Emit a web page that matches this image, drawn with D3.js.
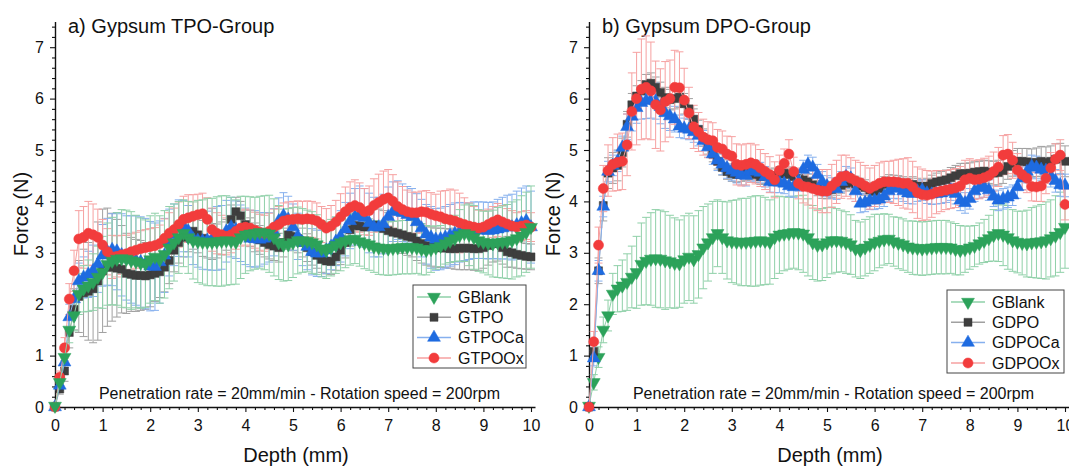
<!DOCTYPE html>
<html><head><meta charset="utf-8">
<script src="https://cdn.jsdelivr.net/npm/d3@7/dist/d3.min.js"></script>
<style>
html,body{margin:0;padding:0;background:#fff;}
svg{display:block;}
text{font-family:"Liberation Sans",Arial,Helvetica,sans-serif;fill:#111;}
</style></head><body>
<svg id="chart" width="1069" height="466"></svg>
<script>
// ---- sampling grid (depth, mm) ----
const depth = d3.range(0, 101).map(i => i / 10);
const xTickValues = [0,1,2,3,4,5,6,7,8,9,10];
const yTickValues = [0,1,2,3,4,5,6,7];

// ---- GBlank (shared control) ----
const gBlank = [0.02,
 0.48,0.97,1.5,1.78,2.2,2.3,2.36,2.43,2.53,
 2.62,2.78,2.84,2.88,2.89,2.88,2.85,2.83,2.8,2.79,
 2.87,2.92,2.87,2.97,3.1,3.2,3.3,3.38,3.3,3.24,
 3.22,3.21,3.21,3.21,3.22,3.23,3.24,3.23,3.21,3.3,
 3.35,3.37,3.38,3.4,3.39,3.37,3.3,3.2,3.15,3.16,
 3.2,3.24,3.24,3.23,3.2,3.16,3.08,3.05,3.1,3.15,
 3.2,3.23,3.26,3.27,3.22,3.19,3.16,3.12,3.1,3.09,
 3.08,3.09,3.1,3.11,3.11,3.11,3.1,3.07,3.05,3.07,
 3.1,3.13,3.18,3.23,3.28,3.34,3.38,3.35,3.3,3.24,
 3.21,3.19,3.18,3.2,3.21,3.22,3.24,3.28,3.33,3.4,
 3.5];
const errBlank = [0,
 0.15,0.2,0.25,0.3,0.4,0.45,0.5,0.55,0.6,
 0.7,0.8,0.85,0.9,0.95,0.95,0.95,0.9,0.88,0.85,
 0.85,0.85,0.85,0.85,0.8,0.75,0.7,0.65,0.7,0.75,
 0.8,0.82,0.85,0.85,0.87,0.88,0.87,0.85,0.82,0.8,
 0.75,0.72,0.7,0.7,0.72,0.75,0.75,0.72,0.7,0.7,
 0.68,0.65,0.62,0.6,0.6,0.58,0.55,0.55,0.55,0.55,
 0.55,0.52,0.5,0.48,0.48,0.5,0.5,0.5,0.52,0.52,
 0.52,0.52,0.52,0.52,0.52,0.52,0.5,0.5,0.48,0.45,
 0.42,0.4,0.4,0.42,0.45,0.5,0.55,0.6,0.62,0.6,
 0.6,0.62,0.65,0.68,0.7,0.72,0.75,0.75,0.78,0.78,
 0.8];

// ---- TPO group ----
const gTPO = [0,
 0.35,0.7,1.45,1.9,2.15,2.22,2.25,2.3,2.45,
 2.65,2.72,2.72,2.7,2.68,2.6,2.58,2.56,2.56,2.55,
 2.57,2.6,2.63,2.72,2.85,3.05,3.2,3.3,3.38,3.42,
 3.35,3.28,3.25,3.22,3.23,3.28,3.35,3.65,3.8,3.72,
 3.55,3.4,3.3,3.25,3.2,3.16,3.13,3.1,3.2,3.35,
 3.32,3.28,3.2,3.1,3.02,2.95,2.87,2.84,2.83,2.92,
 3.05,3.2,3.45,3.53,3.52,3.5,3.52,3.54,3.5,3.47,
 3.43,3.4,3.38,3.35,3.32,3.3,3.23,3.18,3.14,3.12,
 3.1,3.1,3.09,3.08,3.08,3.09,3.09,3.09,3.08,3.08,
 3.1,3.14,3.18,3.18,3.1,3.02,3.0,2.97,2.95,2.93,
 2.92];
const errTPO = [0,
 0.1,0.2,0.3,0.4,0.7,0.85,0.95,1.05,1.15,
 1.2,1.15,1.05,0.95,0.85,0.78,0.72,0.7,0.68,0.65,
 0.62,0.55,0.5,0.48,0.45,0.42,0.4,0.38,0.36,0.35,
 0.35,0.35,0.35,0.35,0.33,0.32,0.3,0.28,0.28,0.28,
 0.28,0.28,0.28,0.28,0.28,0.28,0.28,0.28,0.28,0.28,
 0.28,0.28,0.28,0.27,0.26,0.25,0.25,0.25,0.25,0.26,
 0.28,0.3,0.32,0.33,0.34,0.35,0.35,0.35,0.35,0.35,
 0.35,0.35,0.35,0.36,0.37,0.38,0.38,0.38,0.38,0.38,
 0.38,0.38,0.38,0.38,0.4,0.42,0.42,0.42,0.42,0.42,
 0.4,0.38,0.36,0.34,0.32,0.3,0.28,0.27,0.26,0.25,
 0.25];
const gTPOCa = [0,
 0.42,0.87,1.75,2.1,2.45,2.52,2.58,2.65,2.78,
 2.95,3.02,3.06,3.03,2.96,2.9,2.87,2.85,2.82,2.79,
 2.74,2.73,2.82,2.95,3.2,3.35,3.48,3.52,3.42,3.27,
 3.24,3.23,3.24,3.26,3.28,3.3,3.42,3.5,3.45,3.38,
 3.32,3.28,3.27,3.26,3.28,3.3,3.4,3.62,3.72,3.65,
 3.5,3.32,3.2,3.12,3.02,2.99,2.99,3.05,3.12,3.22,
 3.32,3.46,3.62,3.7,3.74,3.68,3.58,3.5,3.5,3.56,
 3.7,3.8,3.83,3.78,3.74,3.7,3.6,3.48,3.36,3.3,
 3.26,3.27,3.3,3.34,3.37,3.4,3.41,3.42,3.44,3.44,
 3.44,3.43,3.44,3.46,3.48,3.5,3.5,3.54,3.58,3.62,
 3.5];
const errTPOCa = [0,
 0.1,0.15,0.25,0.3,0.35,0.4,0.45,0.5,0.55,
 0.6,0.65,0.7,0.75,0.8,0.82,0.85,0.87,0.88,0.88,
 0.87,0.85,0.8,0.72,0.65,0.6,0.55,0.5,0.5,0.5,
 0.52,0.55,0.57,0.6,0.62,0.62,0.6,0.58,0.56,0.55,
 0.55,0.55,0.55,0.52,0.5,0.48,0.46,0.45,0.45,0.45,
 0.45,0.45,0.45,0.45,0.45,0.45,0.45,0.45,0.45,0.47,
 0.5,0.52,0.54,0.55,0.56,0.57,0.58,0.58,0.58,0.58,
 0.58,0.58,0.57,0.56,0.55,0.55,0.55,0.56,0.58,0.6,
 0.6,0.6,0.6,0.6,0.6,0.58,0.56,0.55,0.55,0.55,
 0.55,0.55,0.55,0.58,0.6,0.62,0.64,0.66,0.68,0.68,
 0.7];
const gTPOOx = [0,
 0.58,1.15,2.1,2.65,3.27,3.3,3.38,3.35,3.3,
 3.15,3.02,2.92,2.93,2.96,2.98,3.02,3.05,3.08,3.1,
 3.12,3.14,3.18,3.28,3.38,3.45,3.55,3.65,3.68,3.71,
 3.74,3.76,3.65,3.45,3.38,3.35,3.32,3.35,3.42,3.48,
 3.5,3.48,3.44,3.4,3.38,3.42,3.5,3.55,3.62,3.64,
 3.65,3.66,3.65,3.66,3.65,3.62,3.55,3.48,3.52,3.6,
 3.7,3.8,3.88,3.92,3.88,3.8,3.82,3.92,3.98,4.04,
 4.07,4.0,3.9,3.84,3.8,3.78,3.78,3.8,3.79,3.75,
 3.72,3.7,3.66,3.64,3.62,3.58,3.55,3.52,3.5,3.48,
 3.5,3.55,3.6,3.64,3.6,3.56,3.52,3.5,3.52,3.54,
 3.5];
const errTPOOx = [0,
 0.12,0.2,0.3,0.4,0.55,0.6,0.62,0.6,0.55,
 0.5,0.45,0.42,0.4,0.38,0.36,0.35,0.35,0.35,0.35,
 0.35,0.35,0.36,0.38,0.4,0.42,0.44,0.45,0.45,0.42,
 0.4,0.4,0.42,0.42,0.4,0.38,0.36,0.35,0.35,0.35,
 0.35,0.35,0.35,0.35,0.35,0.35,0.35,0.35,0.35,0.35,
 0.35,0.35,0.35,0.35,0.35,0.35,0.35,0.38,0.4,0.42,
 0.45,0.48,0.5,0.5,0.48,0.45,0.48,0.52,0.55,0.55,
 0.55,0.52,0.48,0.45,0.42,0.4,0.4,0.4,0.42,0.42,
 0.42,0.5,0.55,0.6,0.6,0.58,0.52,0.45,0.4,0.35,
 0.32,0.3,0.3,0.32,0.32,0.3,0.3,0.28,0.28,0.28,
 0.28];

// ---- DPO group ----
const gDPO = [0,
 1.08,2.65,3.92,4.55,4.65,4.7,4.95,5.5,5.88,
 6.05,6.15,6.27,6.3,6.22,6.12,6.02,5.98,6.0,6.03,
 5.9,5.8,5.6,5.4,5.24,5.08,4.92,4.78,4.66,4.58,
 4.54,4.52,4.54,4.56,4.57,4.52,4.48,4.5,4.48,4.5,
 4.53,4.55,4.52,4.48,4.45,4.42,4.38,4.32,4.26,4.21,
 4.2,4.23,4.27,4.31,4.35,4.37,4.34,4.3,4.27,4.22,
 4.19,4.25,4.33,4.37,4.36,4.35,4.33,4.3,4.33,4.3,
 4.27,4.3,4.35,4.38,4.4,4.42,4.46,4.5,4.54,4.54,
 4.55,4.57,4.58,4.59,4.57,4.55,4.56,4.6,4.68,4.74,
 4.78,4.78,4.77,4.75,4.76,4.78,4.76,4.78,4.82,4.83,
 4.78];
const errDPO = [0,
 0.15,0.25,0.3,0.3,0.3,0.3,0.28,0.25,0.22,
 0.2,0.2,0.2,0.2,0.2,0.2,0.2,0.2,0.2,0.2,
 0.2,0.2,0.2,0.18,0.17,0.16,0.15,0.15,0.15,0.15,
 0.15,0.15,0.15,0.15,0.15,0.15,0.15,0.15,0.15,0.15,
 0.15,0.15,0.15,0.15,0.15,0.15,0.15,0.15,0.15,0.15,
 0.15,0.15,0.15,0.15,0.15,0.15,0.15,0.15,0.15,0.15,
 0.15,0.15,0.15,0.15,0.15,0.15,0.15,0.15,0.15,0.15,
 0.15,0.15,0.16,0.17,0.18,0.19,0.2,0.2,0.2,0.2,
 0.2,0.2,0.2,0.21,0.22,0.23,0.24,0.25,0.25,0.25,
 0.25,0.25,0.26,0.27,0.28,0.29,0.3,0.3,0.3,0.3,
 0.3];
const gDPOCa = [0,
 0.95,2.65,3.9,4.58,4.7,4.78,5.05,5.45,5.65,
 5.82,5.92,5.96,5.97,5.95,5.84,5.72,5.66,5.6,5.46,
 5.42,5.4,5.35,5.28,5.18,5.06,4.92,4.8,4.72,4.65,
 4.6,4.56,4.52,4.5,4.58,4.6,4.56,4.48,4.38,4.37,
 4.37,4.35,4.3,4.28,4.4,4.62,4.72,4.66,4.52,4.38,
 4.3,4.26,4.24,4.38,4.48,4.45,4.2,3.96,3.98,4.02,
 4.02,4.04,4.1,4.2,4.26,4.25,4.2,4.16,4.15,4.2,
 4.22,4.16,4.14,4.15,4.16,4.18,4.22,4.15,4.02,3.97,
 4.05,4.2,4.26,4.28,4.22,4.1,4.02,4.05,4.08,4.12,
 4.28,4.45,4.58,4.68,4.66,4.62,4.6,4.5,4.4,4.32,
 4.31];
const errDPOCa = [0,
 0.15,0.2,0.2,0.2,0.2,0.2,0.22,0.25,0.28,
 0.3,0.32,0.35,0.35,0.35,0.33,0.3,0.28,0.25,0.22,
 0.2,0.2,0.2,0.2,0.2,0.2,0.2,0.2,0.2,0.2,
 0.2,0.2,0.2,0.2,0.2,0.2,0.2,0.2,0.2,0.2,
 0.2,0.2,0.2,0.2,0.2,0.18,0.18,0.2,0.2,0.2,
 0.2,0.2,0.2,0.2,0.2,0.2,0.2,0.18,0.18,0.18,
 0.18,0.18,0.2,0.2,0.2,0.2,0.2,0.2,0.2,0.2,
 0.2,0.2,0.2,0.2,0.2,0.2,0.2,0.2,0.2,0.2,
 0.2,0.2,0.2,0.2,0.2,0.2,0.2,0.2,0.2,0.2,
 0.22,0.22,0.22,0.22,0.22,0.22,0.22,0.22,0.22,0.22,
 0.22];
const gDPOOx = [0,
 1.27,3.15,4.25,4.6,4.72,4.76,4.78,5.1,5.75,
 6.0,6.18,6.22,6.15,5.88,5.78,5.94,6.0,6.22,6.21,
 5.97,5.72,5.45,5.35,5.25,5.2,5.18,5.05,5.02,4.92,
 4.88,4.72,4.7,4.72,4.75,4.72,4.65,4.58,4.52,4.42,
 4.6,4.74,4.92,4.58,4.35,4.29,4.28,4.25,4.22,4.2,
 4.2,4.3,4.38,4.48,4.5,4.45,4.4,4.36,4.3,4.25,
 4.3,4.35,4.38,4.38,4.38,4.37,4.35,4.35,4.28,4.17,
 4.13,4.12,4.14,4.18,4.2,4.22,4.24,4.26,4.3,4.42,
 4.45,4.42,4.43,4.46,4.5,4.58,4.67,4.9,4.92,4.8,
 4.61,4.52,4.45,4.29,4.28,4.3,4.45,4.65,4.82,4.9,
 3.94];
const errDPOOx = [0,
 0.2,0.35,0.45,0.5,0.52,0.55,0.55,0.6,0.75,
 0.9,0.98,1.0,0.95,0.85,0.8,0.78,0.75,0.72,0.7,
 0.62,0.5,0.42,0.38,0.35,0.35,0.35,0.35,0.35,0.35,
 0.38,0.4,0.4,0.4,0.38,0.38,0.36,0.35,0.35,0.35,
 0.3,0.28,0.28,0.28,0.3,0.32,0.35,0.38,0.4,0.42,
 0.42,0.42,0.42,0.42,0.4,0.4,0.4,0.4,0.4,0.4,
 0.4,0.4,0.4,0.4,0.42,0.45,0.48,0.5,0.5,0.5,
 0.5,0.48,0.45,0.42,0.4,0.38,0.38,0.38,0.38,0.38,
 0.38,0.38,0.38,0.38,0.38,0.38,0.38,0.38,0.38,0.35,
 0.32,0.3,0.28,0.28,0.28,0.3,0.3,0.3,0.3,0.3,
 0.3];

// ---- styles ----
const style = {
  blank: {fill:'#2ca25a', light:'#8fd0a8', sym:'down'},
  po:    {fill:'#3e3e3e', light:'#a0a0a0', sym:'square'},
  ca:    {fill:'#1e6be0', light:'#86b0ee', sym:'up'},
  ox:    {fill:'#f23c3c', light:'#f6a0a0', sym:'circle'}
};

const panels = [
  { x0:55, title:'a) Gypsum TPO-Group', legendPos:[413,285], legendW:113,
    series:[
      {name:'GBlank', v:gBlank, e:errBlank, k:'blank'},
      {name:'GTPO',   v:gTPO,   e:errTPO,   k:'po'},
      {name:'GTPOCa', v:gTPOCa, e:errTPOCa, k:'ca'},
      {name:'GTPOOx', v:gTPOOx, e:errTPOOx, k:'ox'}],
    drawOrder:['GTPO','GTPOCa','GTPOOx','GBlank'] },
  { x0:589, title:'b) Gypsum DPO-Group', legendPos:[947,290], legendW:117,
    series:[
      {name:'GBlank', v:gBlank, e:errBlank, k:'blank'},
      {name:'GDPO',   v:gDPO,   e:errDPO,   k:'po'},
      {name:'GDPOCa', v:gDPOCa, e:errDPOCa, k:'ca'},
      {name:'GDPOOx', v:gDPOOx, e:errDPOOx, k:'ox'}],
    drawOrder:['GBlank','GDPO','GDPOCa','GDPOOx'] }
];

const svg = d3.select('#chart');
const y = d3.scaleLinear().domain([0, 7.5]).range([407, 21.5]);
const PX_PER_MM = 47.6, AX_LEN = 480;

function symbolPath(type) {
  if (type === 'circle') return d3.symbol(d3.symbolCircle, 80)();
  if (type === 'square') return d3.symbol(d3.symbolSquare, 64)();
  return d3.symbol(d3.symbolTriangle, 72)();
}
function drawMarker(g, type, fill, cx, cy) {
  g.append('path').attr('d', symbolPath(type))
    .attr('transform', `translate(${cx},${cy})` + (type === 'down' ? ' rotate(180)' : ''))
    .attr('fill', fill).attr('stroke', fill).attr('stroke-width', 0.5);
}

panels.forEach(p => {
  const x = d3.scaleLinear().domain([0, AX_LEN / PX_PER_MM]).range([p.x0, p.x0 + AX_LEN]);
  const g = svg.append('g');

  const xMinor = d3.range(1, 51).map(i => i * 0.2).filter(v => Math.abs(v - Math.round(v)) > 1e-6);
  const yMinor = d3.range(1, 38).map(i => i * 0.2).filter(v => Math.abs(v - Math.round(v)) > 1e-6);

  g.append('g').attr('transform', `translate(0,${y(0)})`)
    .call(d3.axisBottom(x).tickValues(xTickValues).tickSize(5).tickSizeOuter(0).tickPadding(8).tickFormat(d3.format('d')));
  g.append('g').attr('transform', `translate(0,${y(0)})`)
    .call(d3.axisBottom(x).tickValues(xMinor).tickSize(3).tickFormat('')).call(s => s.select('.domain').remove());
  g.append('g').attr('transform', `translate(${p.x0},0)`)
    .call(d3.axisLeft(y).tickValues(yTickValues).tickSize(5).tickSizeOuter(0).tickPadding(6).tickFormat(d3.format('d')));
  g.append('g').attr('transform', `translate(${p.x0},0)`)
    .call(d3.axisLeft(y).tickValues(yMinor).tickSize(3).tickFormat('')).call(s => s.select('.domain').remove());

  g.selectAll('.domain').attr('stroke', '#111').attr('stroke-width', 1.4);
  g.selectAll('.tick line').attr('stroke', '#111').attr('stroke-width', 1.1);
  g.selectAll('.tick text').attr('font-size', 16).attr('fill', '#222')
    .attr('font-family', '"Liberation Sans",Arial,sans-serif');

  g.append('text').attr('x', p.x0 + 241).attr('y', 462).attr('text-anchor', 'middle')
    .attr('font-size', 20).text('Depth (mm)');
  const fx = p.x0 === 55 ? 28 : 560;
  g.append('text').attr('transform', `translate(${fx},214) rotate(-90)`).attr('text-anchor', 'middle')
    .attr('font-size', 20).text('Force (N)');

  g.append('text').attr('x', p.x0 + 13).attr('y', 33).attr('font-size', 20).text(p.title);

  const ordered = p.drawOrder.map(n => p.series.find(s => s.name === n));
  ordered.forEach(s => {
    const st = style[s.k];
    const eg = g.append('g').attr('stroke', st.light).attr('stroke-width', 1).attr('fill', 'none');
    depth.forEach((d, i) => {
      const e = s.e[i];
      if (!e) return;
      const cx = x(d), yt = y(s.v[i] + e), yb = y(s.v[i] - e);
      eg.append('line').attr('x1', cx).attr('x2', cx).attr('y1', yt).attr('y2', yb);
      eg.append('line').attr('x1', cx - 4).attr('x2', cx + 4).attr('y1', yt).attr('y2', yt);
      eg.append('line').attr('x1', cx - 4).attr('x2', cx + 4).attr('y1', yb).attr('y2', yb);
    });
  });

  ordered.forEach(s => {
    const st = style[s.k];
    const line = d3.line().x((d, i) => x(depth[i])).y(d => y(d));
    g.append('path').attr('d', line(s.v)).attr('fill', 'none').attr('stroke', st.light).attr('stroke-width', 1);
    const mg = g.append('g');
    depth.forEach((d, i) => drawMarker(mg, st.sym, st.fill, x(d), y(s.v[i])));
  });

  g.append('text').attr('x', p.x0 + 244.5).attr('y', 398.5).attr('text-anchor', 'middle')
    .attr('font-size', 16).text('Penetration rate = 20mm/min - Rotation speed = 200rpm');

  const [lx, ly] = p.legendPos;
  const lg = g.append('g');
  lg.append('rect').attr('x', lx).attr('y', ly).attr('width', p.legendW).attr('height', 83)
    .attr('fill', '#fff').attr('stroke', '#444').attr('stroke-width', 1);
  const rows = [12, 32.3, 52.6, 73];
  p.series.forEach((s, i) => {
    const st = style[s.k];
    const ry = ly + rows[i];
    lg.append('line').attr('x1', lx + 4).attr('x2', lx + 38).attr('y1', ry).attr('y2', ry)
      .attr('stroke', st.light).attr('stroke-width', 1.5);
    drawMarker(lg, st.sym, st.fill, lx + 21, ry);
    lg.append('text').attr('x', lx + 45).attr('y', ry + 5.8).attr('font-size', 16).text(s.name);
  });
});
</script>
</body></html>
